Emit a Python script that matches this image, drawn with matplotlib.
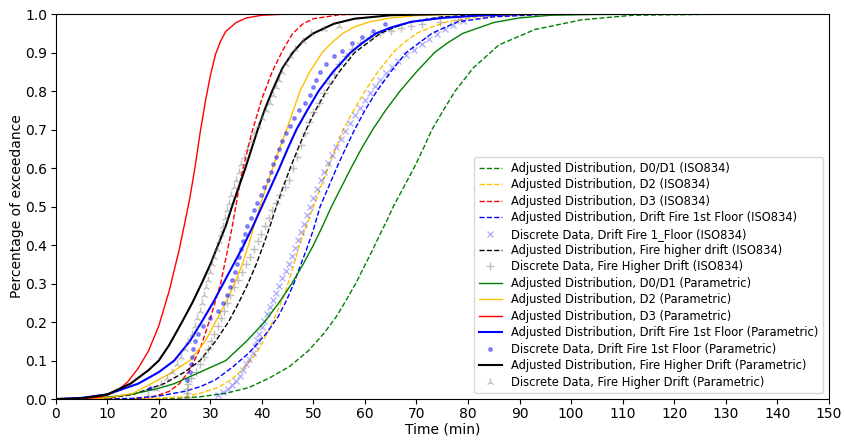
import matplotlib.pyplot as plt

# Adjusted distributions (ISO834)
t_d01_iso = [15, 20, 25, 28, 33, 37.5, 41.5, 45.4, 49, 52, 54.5, 56.5, 58.2, 59.7, 61.4, 63, 64.3, 65.5, 67.5, 69.5,
             71.3, 73, 75.2, 77.5, 81, 86, 93, 102, 112, 125, 137]
p_d01_iso = [0, 0.001, 0.003, 0.006, 0.015, 0.03, 0.055, 0.085, 0.125, 0.17, 0.215, 0.26, 0.3, 0.34, 0.385, 0.43,
             0.465, 0.5, 0.55, 0.6, 0.65, 0.7, 0.75, 0.8, 0.86, 0.92, 0.96, 0.985, 0.997, 0.999, 1.0]

t_d2_iso = [15, 20, 25, 28, 31.5, 34, 36.5, 39, 41, 42.8, 44.6, 46, 47.3, 48.6, 50, 51.4, 52.8, 54.3, 55.8, 57.8,
            60, 62.5, 65.5, 67.5, 70, 73, 76, 82, 95]
p_d2_iso = [0, 0.002, 0.006, 0.015, 0.03, 0.05, 0.08, 0.12, 0.17, 0.22, 0.28, 0.34, 0.4, 0.45, 0.5, 0.55, 0.6, 0.65,
            0.7, 0.75, 0.8, 0.85, 0.9, 0.925, 0.95, 0.967, 0.98, 0.993, 1.0]

t_d3_iso = [10, 15, 19, 22, 24, 26, 28, 30, 32, 34, 36, 38, 40, 42, 44, 46, 48, 50, 55, 60]
p_d3_iso = [0, 0.001, 0.006, 0.02, 0.04, 0.075, 0.13, 0.21, 0.30, 0.43, 0.58, 0.69, 0.78, 0.85, 0.905, 0.95, 0.975,
            0.988, 0.998, 1.0]

t_f1_iso = [10, 15, 20, 25, 28, 31, 34.4, 37.5, 40.9, 43.2, 44.8, 46.2, 47.4, 48.7, 50, 51.3, 52.9, 54.5, 56.2, 58,
            60, 62.3, 65, 68, 70.5, 73, 78, 85, 95, 104]
p_f1_iso = [0, 0.002, 0.008, 0.02, 0.032, 0.05, 0.084, 0.12, 0.171, 0.215, 0.257, 0.3, 0.344, 0.39, 0.44, 0.5, 0.55,
            0.6, 0.65, 0.7, 0.75, 0.8, 0.85, 0.9, 0.925, 0.95, 0.98, 0.993, 0.999, 1.0]

t_hd_iso = [5, 10, 15, 21, 25, 28, 31, 33.5, 35.5, 37.3, 38.9, 40.3, 41.6, 42.8, 44.1, 45.5, 47, 48.6, 50.4, 52.5,
            55, 58, 60.5, 63, 66, 69, 75, 85]
p_hd_iso = [0, 0.002, 0.012, 0.04, 0.07, 0.1, 0.15, 0.2, 0.25, 0.3, 0.35, 0.4, 0.45, 0.5, 0.55, 0.6, 0.65, 0.7, 0.75,
            0.8, 0.85, 0.9, 0.925, 0.95, 0.967, 0.98, 0.993, 1.0]

# Adjusted distributions (Parametric)
t_d01_par = [0, 5, 10, 15, 20, 23, 28, 33, 37, 40.5, 43.3, 45.8, 48, 50, 51.8, 53.5, 55.4, 57.3, 59.3, 61.5, 64,
             66.8, 70, 73.5, 76, 79, 85, 90, 96, 105, 126]
p_d01_par = [0, 0.001, 0.005, 0.013, 0.028, 0.04, 0.07, 0.1, 0.15, 0.2, 0.25, 0.3, 0.35, 0.4, 0.45, 0.5, 0.55, 0.6,
             0.65, 0.7, 0.75, 0.8, 0.85, 0.9, 0.925, 0.95, 0.978, 0.99, 0.997, 0.999, 1.0]

t_d2_par = [5, 10, 15, 18.5, 22, 26, 29, 31, 33, 34.7, 36.2, 37.4, 38.5, 39.6, 40.8, 42.1, 43.4, 44.8, 46.1, 47.4,
            49.3, 51.7, 53.5, 55.7, 58, 61, 65, 70, 80]
p_d2_par = [0, 0.003, 0.015, 0.04, 0.065, 0.1, 0.15, 0.2, 0.25, 0.3, 0.35, 0.4, 0.45, 0.5, 0.55, 0.6, 0.65, 0.7, 0.75,
            0.8, 0.85, 0.9, 0.925, 0.95, 0.967, 0.98, 0.99, 0.996, 1.0]

t_d3_par = [0, 5, 8, 10, 12, 14, 16, 18, 20, 22, 24, 26, 27, 28, 29, 30, 31, 32, 33, 35, 37, 40, 45, 50]
p_d3_par = [0, 0.001, 0.004, 0.01, 0.022, 0.045, 0.08, 0.125, 0.19, 0.28, 0.39, 0.52, 0.6, 0.69, 0.77, 0.84, 0.895,
            0.93, 0.955, 0.978, 0.99, 0.997, 1.0, 1.0]

t_f1_par = [0, 5, 10, 16, 20, 23, 26, 28.3, 30.5, 32.5, 34.5, 36.5, 38.3, 40, 41.7, 43.4, 45, 46.7, 48.8, 51, 53.8,
            57.2, 59.5, 62.2, 65, 69, 75, 82, 90]
p_f1_par = [0, 0.003, 0.012, 0.04, 0.07, 0.1, 0.15, 0.2, 0.25, 0.3, 0.35, 0.4, 0.45, 0.5, 0.55, 0.6, 0.65, 0.7, 0.75,
            0.8, 0.85, 0.9, 0.925, 0.95, 0.965, 0.98, 0.99, 0.996, 1.0]

t_hd_par = [0, 5, 10, 14.5, 18, 20, 22, 24.5, 26.5, 28.3, 30, 31.5, 33, 34.2, 35.5, 36.8, 38, 39.2, 40.5, 42, 44, 46,
            48, 50, 54, 58, 65, 75]
p_hd_par = [0, 0.002, 0.012, 0.04, 0.075, 0.1, 0.14, 0.2, 0.25, 0.3, 0.35, 0.4, 0.45, 0.5, 0.55, 0.6, 0.65, 0.7, 0.75,
            0.8, 0.86, 0.9, 0.93, 0.95, 0.975, 0.988, 0.997, 1.0]

# Discrete data
t_f1_iso_pts = [31.5, 32.5, 33.5, 34.3, 35, 35.7, 36.3, 37, 37.6, 38.2, 38.7, 39.1, 39.5, 40, 40.5, 41, 41.6, 42.2,
                42.8, 43.4, 44, 44.6, 45.2, 45.8, 46.4, 47, 47.6, 48.2, 48.8, 49.4, 50, 50.7, 51.4, 52.1, 52.8, 53.6,
                54.4, 55.3, 56.2, 57.1, 58, 59, 60, 61, 62, 63, 64, 65.2, 66.5, 68, 69.5, 71, 72.5, 74, 75.5, 77, 79]
p_f1_iso_pts = [0.010, 0.018, 0.027, 0.036, 0.046, 0.060, 0.075, 0.090, 0.105, 0.120, 0.137, 0.153, 0.170, 0.187,
                0.204, 0.221, 0.240, 0.258, 0.276, 0.295, 0.314, 0.333, 0.352, 0.372, 0.392, 0.412, 0.433, 0.455,
                0.478, 0.50, 0.523, 0.546, 0.568, 0.59, 0.612, 0.634, 0.655, 0.676, 0.697, 0.717, 0.737, 0.757,
                0.776, 0.795, 0.813, 0.83, 0.846, 0.862, 0.878, 0.893, 0.908, 0.922, 0.936, 0.949, 0.961, 0.972, 0.983]

t_hd_iso_pts = [25.4, 25.4, 25.5, 25.7, 26.3, 27.3, 28, 28.8, 29.5, 30.2, 30.8, 31.4, 32, 32.6, 33.2, 33.8, 34.5,
                35.3, 36.1, 36.9, 37.7, 38.5, 39.2, 39.9, 40.6, 41.3, 42, 42.8, 43.6, 44.4, 45.2, 46, 46.8, 47.6,
                48.4, 49.2, 50, 51, 52, 53, 54, 55, 56.3, 57.5, 59, 61, 63, 65, 67, 69, 71, 74.5, 78]
p_hd_iso_pts = [0.005, 0.015, 0.025, 0.04, 0.055, 0.07, 0.09, 0.11, 0.13, 0.15, 0.17, 0.19, 0.21, 0.23, 0.25, 0.27,
                0.29, 0.31, 0.33, 0.35, 0.37, 0.39, 0.41, 0.43, 0.45, 0.47, 0.49, 0.51, 0.53, 0.55, 0.57, 0.6, 0.63,
                0.66, 0.69, 0.72, 0.745, 0.77, 0.795, 0.82, 0.845, 0.87, 0.89, 0.91, 0.925, 0.94, 0.95, 0.957,
                0.963, 0.968, 0.975, 0.98, 0.985]

t_f1_par_pts = [18.2, 25.5, 26.0, 26.3, 26.5, 26.7, 27.0, 27.6, 28.5, 30.0, 31.5, 32.5, 33.2, 33.8, 34.3, 34.7, 35.1,
                35.5, 35.9, 36.3, 36.7, 37.2, 37.8, 38.4, 39.0, 39.8, 40.5, 41.1, 41.7, 42.2, 42.7, 43.3, 43.9, 44.6,
                45.4, 46.3, 47.3, 48.3, 49.3, 50.0, 50.6, 51.3, 52.5, 54.0, 55.5, 57.5, 59.5, 61.5, 63.8]
p_f1_par_pts = [0.03, 0.05, 0.07, 0.09, 0.11, 0.13, 0.15, 0.17, 0.19, 0.21, 0.23, 0.25, 0.27, 0.29, 0.31, 0.33, 0.35,
                0.37, 0.39, 0.41, 0.43, 0.45, 0.47, 0.49, 0.51, 0.53, 0.55, 0.57, 0.59, 0.61, 0.63, 0.65, 0.67, 0.69,
                0.71, 0.73, 0.75, 0.77, 0.79, 0.81, 0.83, 0.85, 0.87, 0.89, 0.905, 0.925, 0.94, 0.955, 0.975]

t_hd_par_pts = [18, 19.5, 20.5, 21.5, 22.5, 23.5, 24.3, 25, 25.7, 26.4, 27, 27.5, 28, 28.4, 28.8, 29.2, 29.6, 30,
                30.4, 30.8, 31.2, 31.6, 32, 32.4, 32.8, 33.2, 33.6, 34, 34.5, 35, 35.5, 36, 36.6, 37.2, 37.8, 38.5,
                39.2, 40, 40.8, 41.5, 42.2, 42.8, 43.4, 44, 44.7, 45.5, 46.5, 48, 49.5, 52, 55]
p_hd_par_pts = [0.01, 0.025, 0.04, 0.055, 0.07, 0.09, 0.11, 0.13, 0.15, 0.17, 0.19, 0.21, 0.23, 0.25, 0.27, 0.29,
                0.31, 0.33, 0.35, 0.37, 0.39, 0.41, 0.43, 0.45, 0.47, 0.49, 0.51, 0.53, 0.55, 0.57, 0.59, 0.61, 0.63,
                0.65, 0.67, 0.69, 0.71, 0.73, 0.75, 0.77, 0.79, 0.81, 0.83, 0.85, 0.87, 0.89, 0.91, 0.93, 0.95, 0.96,
                0.97]

GOLD = '#ffc000'

fig, ax = plt.subplots(figsize=(8.44, 4.40), dpi=100)
fig.subplots_adjust(left=0.066, right=0.982, top=0.968, bottom=0.093)

ax.plot(t_d01_iso, p_d01_iso, '--', color='green', lw=1, label='Adjusted Distribution, D0/D1 (ISO834)')
ax.plot(t_d2_iso, p_d2_iso, '--', color=GOLD, lw=1, label='Adjusted Distribution, D2 (ISO834)')
ax.plot(t_d3_iso, p_d3_iso, '--', color='red', lw=1, label='Adjusted Distribution, D3 (ISO834)')
ax.plot(t_f1_iso, p_f1_iso, '--', color='blue', lw=1, label='Adjusted Distribution, Drift Fire 1st Floor (ISO834)')
ax.plot(t_f1_iso_pts, p_f1_iso_pts, 'x', color='blue', alpha=0.3, ms=5,
        label='Discrete Data, Drift Fire 1_Floor (ISO834)')
ax.plot(t_hd_iso, p_hd_iso, '--', color='black', lw=1, label='Adjusted Distribution, Fire higher drift (ISO834)')
ax.plot(t_hd_iso_pts, p_hd_iso_pts, '+', color='gray', alpha=0.5, ms=6,
        label='Discrete Data, Fire Higher Drift (ISO834)')
ax.plot(t_d01_par, p_d01_par, '-', color='green', lw=1, label='Adjusted Distribution, D0/D1 (Parametric)')
ax.plot(t_d2_par, p_d2_par, '-', color=GOLD, lw=1, label='Adjusted Distribution, D2 (Parametric)')
ax.plot(t_d3_par, p_d3_par, '-', color='red', lw=1, label='Adjusted Distribution, D3 (Parametric)')
ax.plot(t_f1_par, p_f1_par, '-', color='blue', lw=1.5, label='Adjusted Distribution, Drift Fire 1st Floor (Parametric)')
ax.plot(t_f1_par_pts, p_f1_par_pts, '.', color='blue', alpha=0.4, ms=5,
        label='Discrete Data, Drift Fire 1st Floor (Parametric)')
ax.plot(t_hd_par, p_hd_par, '-', color='black', lw=1.5, label='Adjusted Distribution, Fire Higher Drift (Parametric)')
ax.plot(t_hd_par_pts, p_hd_par_pts, '2', color='gray', alpha=0.5, ms=6,
        label='Discrete Data, Fire Higher Drift (Parametric)')

ax.set_xlim(0, 150)
ax.set_ylim(0, 1.0)
ax.set_xticks(range(0, 151, 10))
ax.set_yticks([i / 10 for i in range(11)])
ax.tick_params(labelsize=10, pad=2.5)
ax.set_xlabel('Time (min)', fontsize=10, labelpad=1)
ax.set_ylabel('Percentage of exceedance', fontsize=10, labelpad=1)
ax.legend(loc='lower right', fontsize=8.3, labelspacing=0.3)

plt.savefig('out.png')
